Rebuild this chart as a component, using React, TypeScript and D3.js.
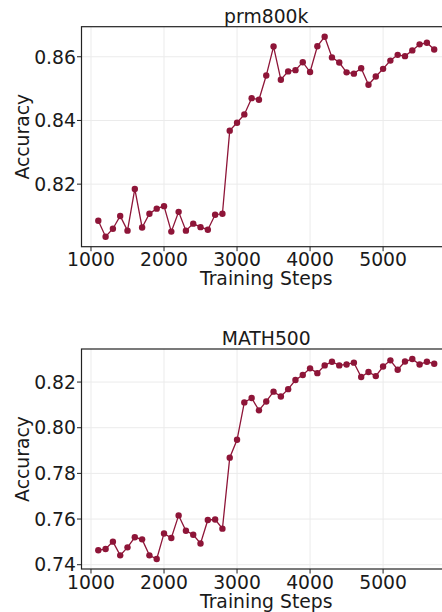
import React from "react";
import * as d3 from "d3";

// training steps (x)
const steps = [
  1100, 1200, 1300, 1400, 1500, 1600, 1700, 1800, 1900, 2000,
  2100, 2200, 2300, 2400, 2500, 2600, 2700, 2800, 2900, 3000,
  3100, 3200, 3300, 3400, 3500, 3600, 3700, 3800, 3900, 4000,
  4100, 4200, 4300, 4400, 4500, 4600, 4700, 4800, 4900, 5000,
  5100, 5200, 5300, 5400, 5500, 5600, 5700,
];

const prm800kAcc = [
  0.8085, 0.8035, 0.806, 0.81, 0.8054, 0.8185, 0.8064, 0.8107, 0.8123, 0.8131,
  0.8051, 0.8113, 0.8054, 0.8076, 0.8065, 0.8057, 0.8104, 0.8107, 0.8368, 0.8393,
  0.8419, 0.847, 0.8465, 0.8541, 0.8632, 0.8528, 0.8554, 0.8558, 0.8583, 0.8552,
  0.8633, 0.8663, 0.8598, 0.8582, 0.8551, 0.8547, 0.8564, 0.8512, 0.8538, 0.8562,
  0.8588, 0.8606, 0.8602, 0.862, 0.8639, 0.8644, 0.8623,
];

const math500Acc = [
  0.7463, 0.7469, 0.7501, 0.7441, 0.7476, 0.752, 0.7511, 0.7441, 0.7425, 0.7537,
  0.7517, 0.7616, 0.7549, 0.7531, 0.7493, 0.7596, 0.7598, 0.7558, 0.7869, 0.7947,
  0.8111, 0.813, 0.8076, 0.8115, 0.8158, 0.8137, 0.8169, 0.8209, 0.8231, 0.826,
  0.8239, 0.8273, 0.8289, 0.8273, 0.8277, 0.8285, 0.8222, 0.8244, 0.8226, 0.8268,
  0.8295, 0.8254, 0.829, 0.8301, 0.8277, 0.8289, 0.828,
];

const xTicks = [1000, 2000, 3000, 4000, 5000];
const prmTicks = [0.82, 0.84, 0.86];
const mathTicks = [0.74, 0.76, 0.78, 0.8, 0.82];

const W = 442;
const H = 612;
const LEFT = 81.5;
const RIGHT = 451;
const FONT = "DejaVu Sans, sans-serif";
const FS = 18.8;
const RED = "#8e1538";

// matplotlib style 5% margins
const pad = (ext: number[]) => {
  const m = (ext[1] - ext[0]) * 0.05;
  return [ext[0] - m, ext[1] + m];
};

const x = d3
  .scaleLinear()
  .domain(pad(d3.extent(steps) as number[]))
  .range([LEFT, RIGHT]);

const Panel = ({ title, values, yTicks, top, bottom }: any) => {
  const y = d3
    .scaleLinear()
    .domain(pad(d3.extent(values) as number[]))
    .range([bottom, top]);
  const line = d3
    .line<number>()
    .x((d, i) => x(steps[i]))
    .y(d => y(d));
  const midY = (top + bottom) / 2;
  const midX = (LEFT + RIGHT) / 2;

  return (
    <g fontFamily={FONT} fill="#1a1a1a">
      {/* grid */}
      {xTicks.map(t => (
        <line key={"gx" + t} x1={x(t)} x2={x(t)} y1={top} y2={bottom} stroke="#ebebeb" strokeWidth={1} />
      ))}
      {yTicks.map((t: number) => (
        <line key={"gy" + t} x1={LEFT} x2={RIGHT} y1={y(t)} y2={y(t)} stroke="#ebebeb" strokeWidth={1} />
      ))}

      <path d={line(values) || ""} fill="none" stroke={RED} strokeWidth={1.3} />
      {values.map((v: number, i: number) => (
        <circle key={i} cx={x(steps[i])} cy={y(v)} r={3.2} fill={RED} />
      ))}

      {/* spines */}
      <rect x={LEFT} y={top} width={RIGHT - LEFT} height={bottom - top} fill="none" stroke="#222" strokeWidth={1.2} />

      {/* ticks */}
      {xTicks.map(t => (
        <g key={"tx" + t}>
          <line x1={x(t)} x2={x(t)} y1={bottom} y2={bottom + 4.5} stroke="#222" />
          <text x={x(t)} y={bottom + 19.5} textAnchor="middle" fontSize={FS}>
            {t}
          </text>
        </g>
      ))}
      {yTicks.map((t: number) => (
        <g key={"ty" + t}>
          <line x1={LEFT - 4.5} x2={LEFT} y1={y(t)} y2={y(t)} stroke="#222" />
          <text x={76} y={y(t)} dy="0.36em" textAnchor="end" fontSize={FS}>
            {d3.format(".2f")(t)}
          </text>
        </g>
      ))}

      <text x={midX} y={top - 4.2} textAnchor="middle" fontSize={FS}>
        {title}
      </text>
      <text x={midX} y={bottom + 38.5} textAnchor="middle" fontSize={FS}>
        Training Steps
      </text>
      <text transform={`translate(29, ${midY}) rotate(-90)`} textAnchor="middle" fontSize={FS}>
        Accuracy
      </text>
    </g>
  );
};

const App = () => {
  return (
    <svg
      width={W}
      height={H}
      style={{ position: "absolute", left: 0, top: 0, background: "#fff" }}
    >
      <Panel title="prm800k" values={prm800kAcc} yTicks={prmTicks} top={26.7} bottom={246.7} />
      <Panel title="MATH500" values={math500Acc} yTicks={mathTicks} top={349} bottom={569} />
    </svg>
  );
};

export default App;
